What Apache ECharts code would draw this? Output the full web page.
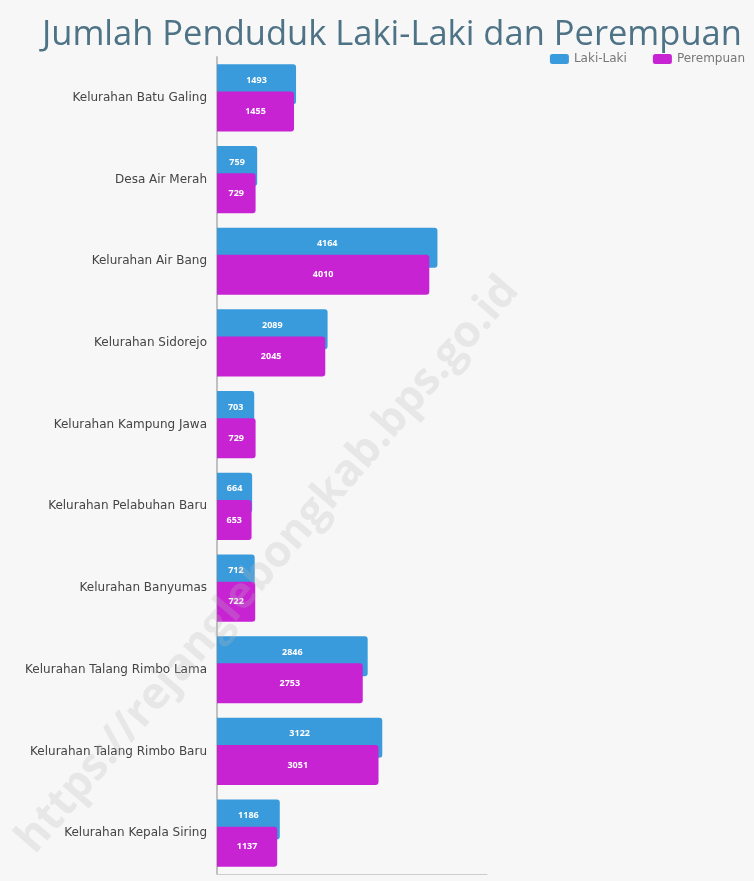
<!DOCTYPE html>
<html><head><meta charset="utf-8">
<script src="https://cdn.jsdelivr.net/npm/echarts@6/dist/echarts.min.js"></script>
<style>html,body{margin:0;padding:0;background:#f7f7f7}#c{width:754px;height:881px}</style>
</head><body><div id="c"></div>
<script>
const categories = ["Kelurahan Batu Galing","Desa Air Merah","Kelurahan Air Bang","Kelurahan Sidorejo","Kelurahan Kampung Jawa","Kelurahan Pelabuhan Baru","Kelurahan Banyumas","Kelurahan Talang Rimbo Lama","Kelurahan Talang Rimbo Baru","Kelurahan Kepala Siring"];
const lakiLaki = [1493, 759, 4164, 2089, 703, 664, 712, 2846, 3122, 1186];
const perempuan = [1455, 729, 4010, 2045, 729, 653, 722, 2753, 3051, 1137];
const seriesNames = ["Laki-Laki", "Perempuan"];

const chart = echarts.init(document.getElementById('c'));
const lbl = {show:true, position:'inside', color:'#fff', fontSize:9, fontWeight:'bold', fontFamily:'Open Sans'};
chart.setOption({
  backgroundColor:'#f7f7f7',
  title:{text:'Jumlah Penduduk Laki-Laki dan Perempuan', left:37, top:13,
    textStyle:{fontFamily:'Open Sans', fontSize:34.5, fontWeight:'normal', color:'#4f7386'}},
  legend:{data:seriesNames, right:4, top:48, itemWidth:19, itemHeight:10, itemGap:26,
    textStyle:{fontFamily:'DejaVu Sans', fontSize:12, color:'#777'}},
  graphic:[{type:'text', position:[268,565], rotation:0.86, z:100, silent:true,
    style:{text:'https://rejanglebongkab.bps.go.id', fill:'rgba(185,185,185,0.25)', font:'bold 44px Open Sans', align:'center', verticalAlign:'middle'}}],
  grid:{left:217, top:57, width:270, height:817},
  xAxis:{type:'value', min:0, max:5100,
    axisLabel:{show:false}, axisLine:{show:true, lineStyle:{color:'#ccc', width:1}},
    axisTick:{show:false}, splitLine:{show:false}},
  yAxis:{type:'category', data:categories, inverse:true,
    axisLine:{lineStyle:{color:'#c0c0c0', width:2}}, axisTick:{show:false},
    axisLabel:{fontFamily:'DejaVu Sans', fontSize:12, color:'#444', margin:10}},
  series:[
    {name:seriesNames[0], type:'bar', data:lakiLaki, barWidth:40, barGap:'-32%',
     itemStyle:{color:'#3a9bdc', borderRadius:[0,3,3,0]}, label:Object.assign({}, lbl, {offset:[0,-4]})},
    {name:seriesNames[1], type:'bar', data:perempuan, barWidth:40,
     itemStyle:{color:'#c723d3', borderRadius:[0,3,3,0]}, label:lbl}
  ]
});
</script></body></html>
